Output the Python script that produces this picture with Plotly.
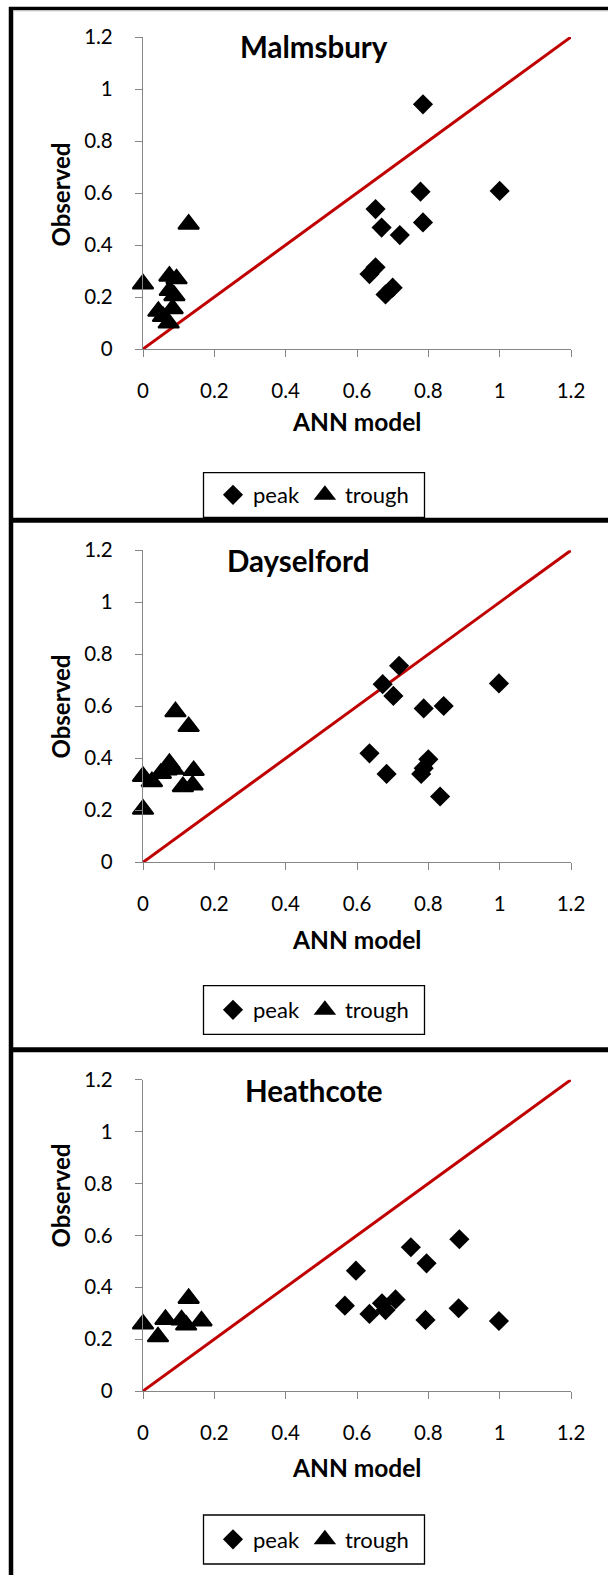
import plotly.graph_objects as go

# ---- data -------------------------------------------------------------
site_names = ["Malmsbury", "Dayselford", "Heathcote"]

malmsbury_peak_x = [0.785, 0.778, 1.0, 0.652, 0.669, 0.72, 0.785, 0.635, 0.652, 0.68, 0.70]
malmsbury_peak_y = [0.941, 0.605, 0.608, 0.538, 0.467, 0.438, 0.487, 0.288, 0.314, 0.21, 0.236]
malmsbury_trough_x = [0.0, 0.128, 0.074, 0.094, 0.075, 0.088, 0.043, 0.056, 0.083, 0.072]
malmsbury_trough_y = [0.25, 0.48, 0.28, 0.27, 0.225, 0.205, 0.145, 0.125, 0.155, 0.10]

dayselford_peak_x = [0.718, 0.672, 0.702, 0.787, 0.843, 0.998, 0.635, 0.683, 0.80, 0.787, 0.78, 0.833]
dayselford_peak_y = [0.756, 0.685, 0.640, 0.592, 0.601, 0.688, 0.419, 0.340, 0.396, 0.362, 0.34, 0.253]
dayselford_trough_x = [0.091, 0.128, 0.0, 0.0, 0.025, 0.074, 0.066, 0.05, 0.085, 0.142, 0.112, 0.139]
dayselford_trough_y = [0.579, 0.522, 0.33, 0.204, 0.31, 0.38, 0.355, 0.342, 0.358, 0.353, 0.291, 0.297]

heathcote_peak_x = [0.566, 0.597, 0.635, 0.67, 0.68, 0.708, 0.751, 0.795, 0.792, 0.887, 0.885, 0.998]
heathcote_peak_y = [0.329, 0.464, 0.297, 0.338, 0.312, 0.353, 0.554, 0.492, 0.274, 0.585, 0.319, 0.27]
heathcote_trough_x = [0.0, 0.042, 0.063, 0.108, 0.121, 0.128, 0.164]
heathcote_trough_y = [0.258, 0.209, 0.276, 0.274, 0.254, 0.357, 0.27]

one_to_one = [0.0, 1.2]
tick_vals = [0, 0.2, 0.4, 0.6, 0.8, 1.0, 1.2]
tick_text = ["0", "0.2", "0.4", "0.6", "0.8", "1", "1.2"]

panels = [
    (malmsbury_peak_x, malmsbury_peak_y, malmsbury_trough_x, malmsbury_trough_y),
    (dayselford_peak_x, dayselford_peak_y, dayselford_trough_x, dayselford_trough_y),
    (heathcote_peak_x, heathcote_peak_y, heathcote_trough_x, heathcote_trough_y),
]

# ---- page geometry (pixels) ------------------------------------------
W, H = 608, 1575
FONT = "Lato, 'Open Sans', sans-serif"

def fx(px):
    return px / W

def fy(py):
    return 1 - py / H

plot_left, plot_right = 143, 571
plot_tops = [37, 550.3, 1079.7]
plot_bottoms = [349, 862.3, 1391]
title_pos = [(314, 46.5), (297.5, 560), (314, 1090.5)]
ytitle_cy = [195, 707, 1196]
xtitle_cy = [422, 939, 1467]
legend_cy = [495, 1010, 1539.5]
legend_box_x = (203.5, 424.5)
legend_box_y = [(472.7, 517.3), (985.7, 1034.3), (1515, 1564)]

fig = go.Figure()

for i, (px_, py_, tx_, ty_) in enumerate(panels):
    sfx = "" if i == 0 else str(i + 1)
    xa, ya = "x" + sfx, "y" + sfx
    leg = "legend" + sfx

    fig.add_trace(go.Scatter(
        x=one_to_one, y=one_to_one, mode="lines",
        line=dict(color="#C00000", width=3),
        xaxis=xa, yaxis=ya, showlegend=False, hoverinfo="skip",
        cliponaxis=False,
    ))
    fig.add_trace(go.Scatter(
        x=px_, y=py_, mode="markers", name="peak",
        marker=dict(symbol="diamond", size=15.5, color="black"),
        xaxis=xa, yaxis=ya, legend=leg, cliponaxis=False,
    ))
    fig.add_trace(go.Scatter(
        x=tx_, y=ty_, mode="markers", name="trough",
        marker=dict(symbol="triangle-up", size=18, color="black",
                    line=dict(color="black", width=2)),
        xaxis=xa, yaxis=ya, legend=leg, cliponaxis=False,
    ))

layout = dict(
    width=W, height=H,
    margin=dict(l=0, r=0, t=0, b=0, pad=0, autoexpand=False),
    paper_bgcolor="white", plot_bgcolor="white",
    font=dict(family=FONT, color="black"),
    showlegend=True,
)

axis_common = dict(
    range=[0, 1.2], tickvals=tick_vals, ticktext=tick_text,
    showline=True, linecolor="#868686", linewidth=1.3,
    ticks="outside", ticklen=7, tickwidth=1.3, tickcolor="#868686",
    showgrid=False, zeroline=False, automargin=False,
    tickfont=dict(family=FONT, size=20.5, color="black"),
    fixedrange=True,
)

annotations = []
shapes = []
for i in range(3):
    sfx = "" if i == 0 else str(i + 1)
    layout["xaxis" + sfx] = dict(
        axis_common,
        domain=[fx(plot_left), fx(plot_right)],
        anchor="y" + sfx,
        ticklabelstandoff=16,
    )
    layout["yaxis" + sfx] = dict(
        axis_common,
        domain=[fy(plot_bottoms[i]), fy(plot_tops[i])],
        anchor="x" + sfx,
        ticklabelstandoff=18,
    )
    layout["legend" + sfx] = dict(
        orientation="h",
        x=fx(313.5), xanchor="center",
        y=fy(legend_cy[i]), yanchor="middle",
        bgcolor="rgba(0,0,0,0)", borderwidth=0,
        font=dict(family=FONT, size=22, color="black"),
        itemwidth=30, tracegroupgap=0,
    )
    # legend frame, a little roomier than plotly's own box
    by0, by1 = legend_box_y[i]
    shapes.append(dict(
        type="rect", xref="paper", yref="paper",
        x0=fx(legend_box_x[0]), x1=fx(legend_box_x[1]),
        y0=fy(by1), y1=fy(by0),
        line=dict(color="black", width=1.3), fillcolor="white", layer="above",
    ))
    tx, ty = title_pos[i]
    annotations.append(dict(
        text="<b>%s</b>" % site_names[i], x=fx(tx), y=fy(ty),
        xref="paper", yref="paper", showarrow=False,
        xanchor="center", yanchor="middle",
        font=dict(family=FONT, size=29.5, color="black"),
    ))
    annotations.append(dict(
        text="<b>Observed</b>", x=fx(59.5), y=fy(ytitle_cy[i]),
        xref="paper", yref="paper", showarrow=False, textangle=-90,
        xanchor="center", yanchor="middle",
        font=dict(family=FONT, size=24, color="black"),
    ))
    annotations.append(dict(
        text="<b>ANN model</b>", x=fx(356.5), y=fy(xtitle_cy[i]),
        xref="paper", yref="paper", showarrow=False,
        xanchor="center", yanchor="middle",
        font=dict(family=FONT, size=24.5, color="black"),
    ))

layout["annotations"] = annotations

# frame lines around and between the three panels
shapes += [
    dict(type="line", xref="paper", yref="paper", x0=fx(11), x1=fx(11), y0=0, y1=fy(7),
         line=dict(color="black", width=4.5)),
    dict(type="line", xref="paper", yref="paper", x0=fx(9), x1=1, y0=fy(8.5), y1=fy(8.5),
         line=dict(color="black", width=3.5)),
    dict(type="line", xref="paper", yref="paper", x0=fx(13), x1=1, y0=fy(10.8), y1=fy(10.8),
         line=dict(color="#BFBFBF", width=1)),
    dict(type="line", xref="paper", yref="paper", x0=fx(9), x1=1, y0=fy(520.2), y1=fy(520.2),
         line=dict(color="black", width=5)),
    dict(type="line", xref="paper", yref="paper", x0=fx(9), x1=1, y0=fy(1049.7), y1=fy(1049.7),
         line=dict(color="black", width=5)),
]
layout["shapes"] = shapes

fig.update_layout(**layout)
fig.write_html("out.html")
